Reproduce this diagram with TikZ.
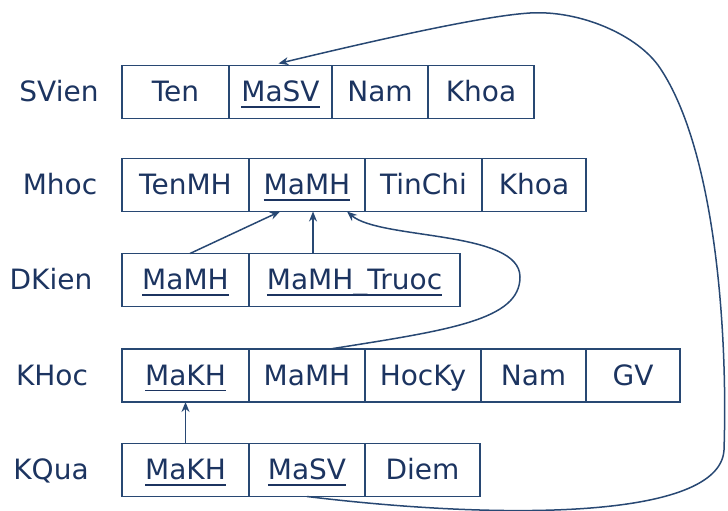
\documentclass[tikz,border=0pt]{standalone}
\usepackage{fontspec}
\setmainfont{DejaVu Sans}
\usetikzlibrary{arrows.meta,calc}
\definecolor{linec}{RGB}{40,72,115}
\definecolor{textc}{RGB}{28,52,96}
\newcommand\ulx[1]{\setbox0\hbox{#1}\rlap{\rule[-6.4pt]{\wd0}{1.6pt}}\box0}
\begin{document}
\begin{tikzpicture}[x=1pt,y=-1pt,
  cell/.style={draw=linec, line width=1.6pt, inner sep=0pt, outer sep=0pt,
    minimum height=53pt, text=textc, text height=21pt, text depth=2pt,
    font=\fontsize{28}{32}\selectfont},
  lbl/.style={text=textc, inner sep=0pt, text height=21pt, text depth=2pt,
    font=\fontsize{28}{32}\selectfont},
  arr/.style={draw=linec, line width=1.5pt, -{Stealth[length=10pt,width=8pt]}}]
\useasboundingbox (0,0) rectangle (728,511);

% labels
\node[lbl] (lsv) at (59,92) {SVien};
\node[lbl] (lmh) at (60,185) {Mhoc};
\node[lbl] (ldk) at (51,280) {DKien};
\node[lbl] (lkh) at (52,376) {KHoc};
\node[lbl] (lkq) at (51,470) {KQua};

% SVien
\node[cell, minimum width=107pt] (sv1) at (175.5,92) {Ten};
\node[cell, minimum width=103pt] (sv2) at (280.5,92) {\ulx{MaSV}};
\node[cell, minimum width=96pt]  (sv3) at (380,92) {Nam};
\node[cell, minimum width=106pt] (sv4) at (481,92) {Khoa};

% Mhoc
\node[cell, minimum width=127pt] (mh1) at (185.5,185) {TenMH};
\node[cell, minimum width=116pt] (mh2) at (307,185) {\ulx{MaMH}};
\node[cell, minimum width=117pt] (mh3) at (423.5,185) {TinChi};
\node[cell, minimum width=104pt] (mh4) at (534,185) {Khoa};

% DKien
\node[cell, minimum width=127pt] (dk1) at (185.5,280) {\ulx{MaMH}};
\node[cell, minimum width=211pt] (dk2) at (354.5,280) {\ulx{MaMH\_Truoc}};

% KHoc
\node[cell, minimum width=127pt] (kh1) at (185.5,375.5) {\ulx{MaKH}};
\node[cell, minimum width=116pt] (kh2) at (307,375.5) {MaMH};
\node[cell, minimum width=116pt] (kh3) at (423,375.5) {HocKy};
\node[cell, minimum width=105pt] (kh4) at (533.5,375.5) {Nam};
\node[cell, minimum width=94pt]  (kh5) at (633,375.5) {GV};

% KQua
\node[cell, minimum width=127pt] (kq1) at (185.5,470) {\ulx{MaKH}};
\node[cell, minimum width=116pt] (kq2) at (307,470) {\ulx{MaSV}};
\node[cell, minimum width=115pt] (kq3) at (422.5,470) {Diem};

% connectors
\draw[arr] ([xshift=4.5pt]dk1.north) -- ([xshift=-27pt]mh2.south);
\draw[arr] ([xshift=6pt]mh2.south |- dk2.north) -- ([xshift=6pt]mh2.south);
\draw[arr] ([xshift=23pt]kh2.north) .. controls (450,330) and (520,320) .. (520,277)
  .. controls (520,230) and (380,240) .. ([xshift=40pt]mh2.south);
\draw[arr] (kq1.north) -- (kh1.south);
\draw[arr] (kq2.south) .. controls (500,520) and (720,520) .. (724,450)
  .. controls (728,330) and (715,150) .. (660,68)
  .. controls (638,35) and (580,10) .. (530,13)
  .. controls (480,16) and (360,44) .. ([xshift=-2pt,yshift=2pt]sv2.north);
\end{tikzpicture}
\end{document}
